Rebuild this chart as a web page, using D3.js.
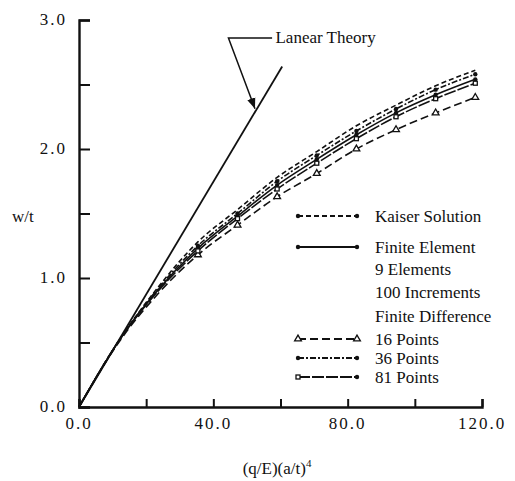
<html>
<head>
  <script src="https://d3js.org/d3.v7.min.js"></script>
  <style>
    body { margin: 0; background: #fff; }
    svg { display: block; }
  </style>
</head>
<body>
  <div id="chart"></div>
</body>
<script>
  // values
  var loads = [0, 11.8, 23.6, 35.4, 47.2, 59, 70.8, 82.6, 94.4, 106.2, 118];
  var kaiser   = [0, 0.51, 0.93, 1.28, 1.53, 1.78, 1.98, 2.18, 2.34, 2.49, 2.61];
  var finiteEl = [0, 0.51, 0.91, 1.23, 1.48, 1.72, 1.92, 2.11, 2.28, 2.42, 2.54];
  var pts16    = [0, 0.50, 0.88, 1.18, 1.41, 1.63, 1.81, 2.00, 2.15, 2.28, 2.40];
  var pts36    = [0, 0.51, 0.92, 1.25, 1.50, 1.75, 1.95, 2.14, 2.31, 2.46, 2.58];
  var pts81    = [0, 0.51, 0.90, 1.21, 1.46, 1.69, 1.89, 2.08, 2.25, 2.39, 2.51];
  var linearX = [0, 60.5];
  var linearY = [0, 2.64];

  var xTicks = [0, 20, 40, 60, 80, 100, 120];
  var xTickLabels = [0, 40, 80, 120];
  var yTicks = [0, 0.5, 1, 1.5, 2, 2.5, 3];
  var yTickLabels = [0, 1, 2, 3];

  var legendRows = ["Kaiser Solution", "Finite Element", "9 Elements", "100 Increments",
                    "Finite Difference", "16 Points", "36 Points", "81 Points"];

  var width = 515, height = 481;
  var svg = d3.select("#chart").append("svg").attr("width", width).attr("height", height)
    .attr("font-family", "'Liberation Serif', 'Times New Roman', 'DejaVu Serif', serif")
    .attr("fill", "#111");

  var x = d3.scaleLinear().domain([0, 120]).range([79, 482]);
  var y = d3.scaleLinear().domain([0, 3]).range([407, 20]);

  // axes, ticks point inward
  var yAxis = d3.axisRight(y).tickValues(yTicks).tickSize(11).tickFormat("");
  var xAxis = d3.axisTop(x).tickValues(xTicks).tickSize(8).tickFormat("");
  var gy = svg.append("g").attr("transform", "translate(" + x(0) + ",0)").call(yAxis);
  var gx = svg.append("g").attr("transform", "translate(0," + y(0) + ")").call(xAxis);
  [gx, gy].forEach(function(g) {
    g.select(".domain").attr("stroke", "#111").attr("stroke-width", 2.4);
    g.selectAll(".tick line").attr("stroke", "#111").attr("stroke-width", 2);
  });

  svg.selectAll(".ylab").data(yTickLabels).enter().append("text")
    .attr("x", 67).attr("y", function(d) { return y(d) + 5; })
    .attr("text-anchor", "end").attr("font-size", 17).style("letter-spacing", "2px")
    .text(function(d) { return d3.format(".1f")(d); });

  svg.selectAll(".xlab").data(xTickLabels).enter().append("text")
    .attr("x", function(d) { return x(d); }).attr("y", y(0) + 22)
    .attr("text-anchor", "middle").attr("font-size", 17).style("letter-spacing", "2px")
    .text(function(d) { return d3.format(".1f")(d); });

  svg.append("text").attr("x", 12).attr("y", 222).attr("font-size", 17).text("w/t");

  var xt = svg.append("text").attr("x", 277).attr("y", 474).attr("text-anchor", "middle")
    .attr("font-size", 17);
  xt.append("tspan").text("(q/E)(a/t)");
  xt.append("tspan").attr("font-size", 11).attr("dy", -7).text("4");

  // linear theory
  svg.append("line")
    .attr("x1", x(linearX[0])).attr("y1", y(linearY[0]))
    .attr("x2", x(linearX[1])).attr("y2", y(linearY[1]))
    .attr("stroke", "#111").attr("stroke-width", 1.8);

  // annotation for linear theory
  var elbowX = 44.5, elbowY = 2.86, tipX = 53;
  var tipY = tipX * linearY[1] / linearX[1];
  svg.append("defs").append("marker").attr("id", "arr")
    .attr("viewBox", "0 0 10 10").attr("refX", 10).attr("refY", 5)
    .attr("markerWidth", 7).attr("markerHeight", 7).attr("orient", "auto")
    .append("path").attr("d", "M0,1L10,5L0,9z").attr("fill", "#111");
  svg.append("polyline")
    .attr("points", [[x(57.5), y(elbowY)], [x(elbowX), y(elbowY)], [x(tipX) - 2, y(tipY)]].join(" "))
    .attr("fill", "none").attr("stroke", "#111").attr("stroke-width", 1.5)
    .attr("marker-end", "url(#arr)");
  svg.append("text").attr("x", x(58.5)).attr("y", y(elbowY) + 5)
    .attr("font-size", 17).text("Lanear Theory");

  // series
  var series = [
    { name: "kaiser", vals: kaiser },
    { name: "fe", vals: finiteEl },
    { name: "p16", vals: pts16 },
    { name: "p36", vals: pts36 },
    { name: "p81", vals: pts81 }
  ];
  var styles = {
    kaiser: { dash: "5,3", marker: "dot" },
    fe:     { dash: null, marker: "dot" },
    p16:    { dash: "8,4", marker: "tri" },
    p36:    { dash: "6,2,2,2", marker: "dot" },
    p81:    { dash: "12,2", marker: "sq" }
  };

  var line = d3.line().curve(d3.curveMonotoneX)
    .x(function(d) { return x(d[0]); }).y(function(d) { return y(d[1]); });

  function drawMarker(g, type, cx, cy) {
    if (type === "tri") {
      g.append("path").attr("d", d3.symbol().type(d3.symbolTriangle).size(20)())
        .attr("transform", "translate(" + cx + "," + cy + ")")
        .attr("fill", "#fff").attr("stroke", "#111").attr("stroke-width", 1.3);
    } else if (type === "sq") {
      g.append("rect").attr("x", cx - 2).attr("y", cy - 2).attr("width", 4).attr("height", 4)
        .attr("fill", "#fff").attr("stroke", "#111").attr("stroke-width", 1.3);
    } else {
      g.append("circle").attr("cx", cx).attr("cy", cy).attr("r", 2.2).attr("fill", "#111");
    }
  }

  series.forEach(function(s) {
    var st = styles[s.name];
    var pts = loads.map(function(l, i) { return [l, s.vals[i]]; });
    svg.append("path").datum(pts).attr("d", line)
      .attr("fill", "none").attr("stroke", "#111").attr("stroke-width", 1.6)
      .attr("stroke-dasharray", st.dash);
    if (s.name !== "kaiser") {
      var g = svg.append("g");
      pts.forEach(function(p, i) {
        if (i >= 3) drawMarker(g, st.marker, x(p[0]), y(p[1]));
      });
    }
  });

  // legend
  var rowY = [216, 247, 269, 292, 316, 339, 358, 377];
  var rowKey = ["kaiser", "fe", null, null, null, "p16", "p36", "p81"];
  legendRows.forEach(function(label, i) {
    var ly = rowY[i];
    svg.append("text").attr("x", 375).attr("y", ly + 6).attr("font-size", 17).text(label);
    var k = rowKey[i];
    if (!k) return;
    var st = styles[k];
    svg.append("line").attr("x1", 298).attr("x2", 357).attr("y1", ly).attr("y2", ly)
      .attr("stroke", "#111").attr("stroke-width", 1.8).attr("stroke-dasharray", st.dash);
    var g = svg.append("g");
    if (k === "p81") {
      drawMarker(g, "sq", 298, ly);
      drawMarker(g, "dot", 357, ly);
    } else {
      drawMarker(g, st.marker, 298, ly);
      drawMarker(g, st.marker, 357, ly);
    }
  });
</script>
</html>
